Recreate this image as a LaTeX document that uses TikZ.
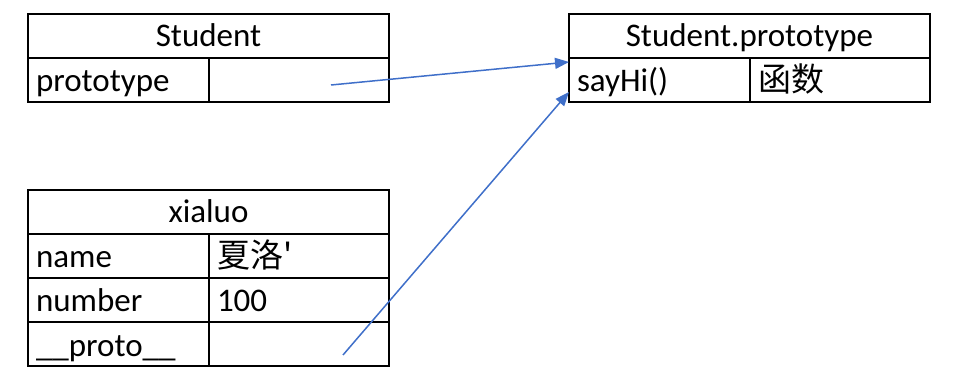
\documentclass[tikz,border=0pt]{standalone}
\usepackage{fontspec}
\setmainfont{Carlito}
\newfontfamily\cjk{Noto Sans CJK SC}
\usetikzlibrary{
  arrows.meta,
  positioning,
  calc
}
\definecolor{linkblue}{HTML}{3F6FC9}

\begin{document}
\begin{tikzpicture}[
  x=0.5pt, y=-0.5pt,
  head/.style={draw, line width=1pt, text width=180.5pt, align=center,
    text height=16.5pt, text depth=5.5pt, inner sep=0pt, outer sep=0pt,
    font=\fontsize{16.5}{18}\selectfont},
  key/.style={draw, line width=1pt, text width=82.5pt, text height=17pt, text depth=5pt,
    inner xsep=4pt, inner ysep=0pt, outer sep=0pt, align=left,
    font=\fontsize{16.5}{18}\selectfont},
  val/.style={key, text width=82pt},
  link/.style={-{Triangle[length=7pt, width=5.5pt]}, line width=0.75pt, linkblue}
]
  \useasboundingbox (0,0) rectangle (967,384);

  % --- Student ---
  \node[head, anchor=north west] (stu) at (28,14) {Student};
  \node[key, below right=0pt of stu.south west] (stuproto) {prototype};
  \node[val, right=0pt of stuproto] (stuprotoval) {};

  % --- Student.prototype ---
  \node[head, anchor=north west] (sp) at (569,14) {Student.prototype};
  \node[key, below right=0pt of sp.south west] (sayhi) {sayHi()};
  \node[val, right=0pt of sayhi] (sayhival) {\cjk 函数};

  % --- xialuo ---
  \node[head, anchor=north west] (xl) at (28,190) {xialuo};
  \node[key, below right=0pt of xl.south west] (name) {name};
  \node[val, right=0pt of name] (nameval) {\cjk 夏洛\textquotesingle};
  \node[key, below=0pt of name] (number) {number};
  \node[val, right=0pt of number] (numberval) {100};
  \node[key, below=0pt of number] (proto) {\_\_proto\_\_};
  \node[val, right=0pt of proto] (protoval) {};

  % --- Arrows ---
  \coordinate (from1) at (331,85);
  \coordinate (from2) at (343,355);
  \draw[link] (from1) -- ($(sayhi.north west)+(0,4)$);
  \draw[link] (from2) -- ($(sayhi.south west)+(0,-10)$);
\end{tikzpicture}
\end{document}
